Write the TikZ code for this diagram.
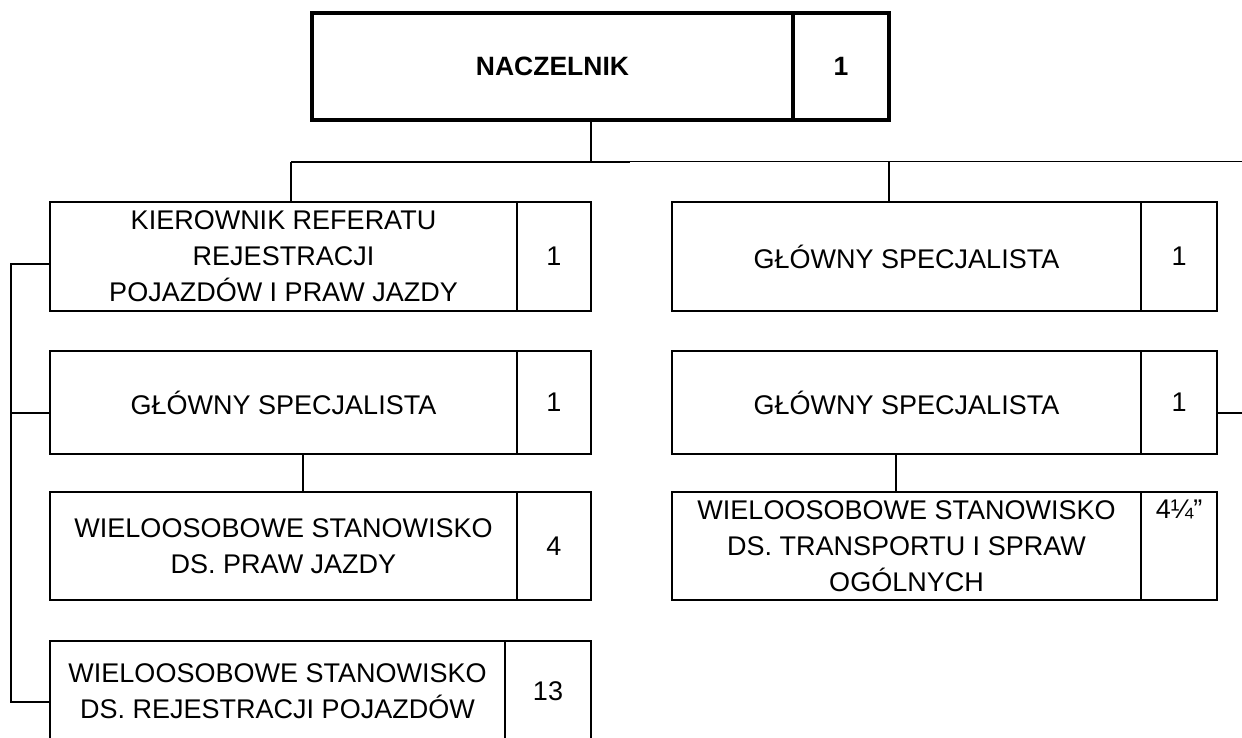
\documentclass[tikz,border=0pt]{standalone}
\usepackage{fontspec}
\setmainfont{Liberation Sans}
\tikzset{
  cell/.style={draw, line width=1.3pt, inner sep=0pt, align=center,
    font=\fontsize{27}{36}\selectfont},
  headcell/.style={cell, line width=3.3pt, font=\fontsize{26.5}{35}\selectfont\bfseries},
  link/.style={line width=1.4pt}
}
\begin{document}
\begin{tikzpicture}[x=1pt, y=-1pt]
    \clip (0,0) rectangle (1242,738);
    % head
    \node[headcell, minimum width=481pt, minimum height=107pt] (nacz)  at (552.5,66.5) {NACZELNIK};
    \node[headcell, minimum width=96pt,  minimum height=107pt] (naczN) at (841,66.5)   {1};

    % left column
    \node[cell, minimum width=467pt, minimum height=109pt] (kier)  at (283.5,256.5) {KIEROWNIK REFERATU\\REJESTRACJI\\POJAZDÓW I PRAW JAZDY};
    \node[cell, minimum width=74pt,  minimum height=109pt] (kierN) at (554,256.5)   {1};
    \node[cell, minimum width=467pt, minimum height=103pt] (gsL)   at (283.5,402.5) {GŁÓWNY SPECJALISTA};
    \node[cell, minimum width=74pt,  minimum height=103pt] (gsLN)  at (554,402.5)   {1};
    \node[cell, minimum width=467pt, minimum height=108pt] (praw)  at (283.5,546)   {WIELOOSOBOWE STANOWISKO\\DS. PRAW JAZDY};
    \node[cell, minimum width=74pt,  minimum height=108pt] (prawN) at (554,546)     {4};
    \node[cell, minimum width=455pt, minimum height=100pt] (rej)   at (277.5,691)   {WIELOOSOBOWE STANOWISKO\\DS. REJESTRACJI POJAZDÓW};
    \node[cell, minimum width=86pt,  minimum height=100pt] (rejN)  at (548,691)     {13};

    % right column
    \node[cell, minimum width=469pt, minimum height=109pt] (gsR1)  at (906.5,256.5) {GŁÓWNY SPECJALISTA};
    \node[cell, minimum width=76pt,  minimum height=109pt] (gsR1N) at (1179,256.5)  {1};
    \node[cell, minimum width=469pt, minimum height=103pt] (gsR2)  at (906.5,402.5) {GŁÓWNY SPECJALISTA};
    \node[cell, minimum width=76pt,  minimum height=103pt] (gsR2N) at (1179,402.5)  {1};
    \node[cell, minimum width=469pt, minimum height=108pt] (trans) at (906.5,546)   {WIELOOSOBOWE STANOWISKO\\DS. TRANSPORTU I SPRAW\\OGÓLNYCH};
    \node[cell, minimum width=76pt,  minimum height=108pt] (transN) at (1179,546)   {};
    \node[font=\fontsize{27}{36}\selectfont, anchor=north, inner sep=0pt] (transNum) at ([yshift=-8pt]transN.north) {4¼”};

    % bus and bracket points
    \coordinate (busL) at (291,162);
    \coordinate (busC) at (591,162);
    \coordinate (busM) at (630,162);
    \coordinate (busG) at (889,162);
    \coordinate (busR) at (1242,162);
    \coordinate (brkT) at (11,264);
    \coordinate (brkM) at (11,413);
    \coordinate (brkB) at (11,702);

    \draw[link] (nacz.south -| busC) -- (busC);
    \draw[line width=1.7pt] (busL) -- (busM);
    \draw[line width=1pt] (busM) -- (busR);
    \draw[link] (busL) -- (busL |- kier.north);
    \draw[link] (busG) -- (busG |- gsR1.north);

    \draw[link] (kier.west |- brkT) -- (brkT) -- (brkB) -- (rej.west |- brkB);
    \draw[link] (brkM) -- (gsL.west |- brkM);
    \draw[link] ([xshift=19.5pt]gsL.south) -- ([xshift=19.5pt]praw.north);

    \draw[link] ([xshift=-10.5pt]gsR2.south) -- ([xshift=-10.5pt]trans.north);
    \draw[link] (gsR2N.east |- brkM) -- (busR |- brkM);
\end{tikzpicture}
\end{document}
